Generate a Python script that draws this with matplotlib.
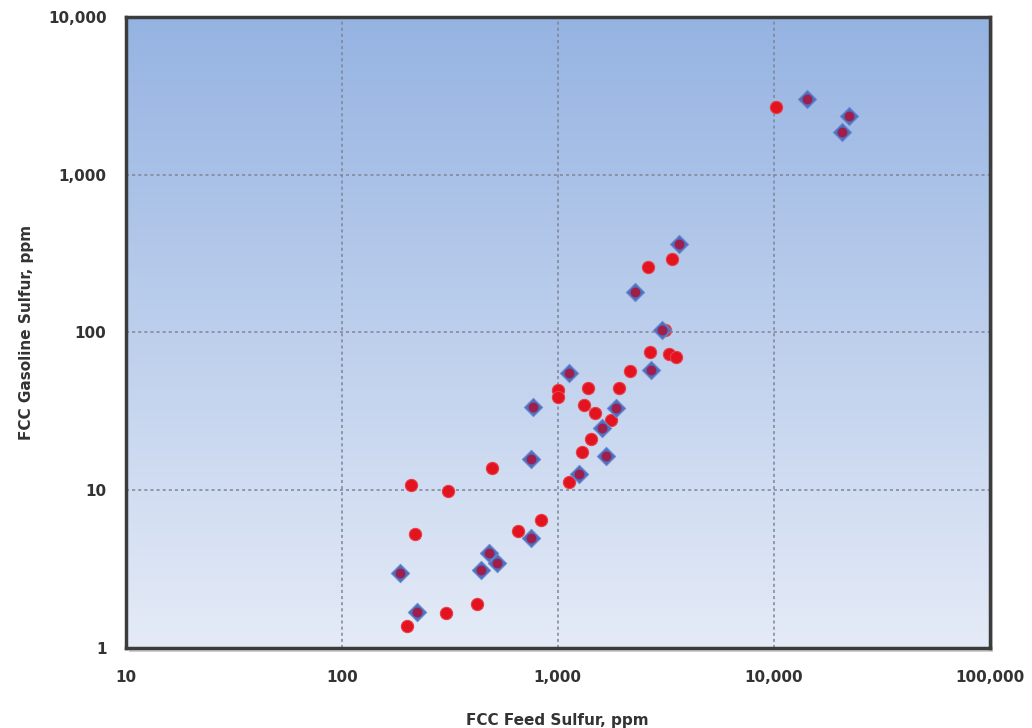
import numpy as np
import matplotlib
matplotlib.use("Agg")
import matplotlib.pyplot as plt
from matplotlib.ticker import FixedLocator, FuncFormatter, NullLocator
from matplotlib.patches import Rectangle

# red circles: feed sulfur vs gasoline sulfur (ppm)
red_feed = [10200, 3380, 2620, 3140, 2670, 3280, 3540, 2160, 1378, 1920,
            1000, 1000, 1320, 1487, 1760, 1420, 1290, 494, 1125, 210,
            309, 834, 652, 217, 421, 302, 201]
red_gas = [2680, 290, 258, 104, 75, 73, 70, 57, 44.5, 44.5,
           43, 39, 34.7, 30.8, 27.8, 21.1, 17.4, 13.8, 11.2, 10.7,
           9.85, 6.5, 5.5, 5.3, 1.91, 1.67, 1.38]

# blue diamonds (drawn with a red core, so they look purple)
blue_feed = [14300, 22400, 20600, 3640, 2280, 3040, 2700, 1125, 766, 1860,
             1600, 1670, 750, 1250, 750, 185, 440, 479, 521, 224]
blue_gas = [3010, 2350, 1860, 361, 181, 104, 58, 55, 33.7, 33.2,
            24.7, 16.4, 15.7, 12.6, 5.0, 3.0, 3.1, 3.97, 3.43, 1.70]

x_ticks = [10, 100, 1000, 10000, 100000]
y_ticks = [1, 10, 100, 1000, 10000]

fig = plt.figure(figsize=(10.32, 7.28), dpi=100)
pos = [0.122, 0.110, 0.837, 0.867]

# shadow behind the plot frame
fig.patches.append(Rectangle((pos[0] + 0.003, pos[1] - 0.005), pos[2], pos[3],
                             transform=fig.transFigure, facecolor="#b0b0b0",
                             edgecolor="none", alpha=0.6, zorder=0))

# gradient background
bg = fig.add_axes(pos, zorder=1)
grad = np.linspace(0, 1, 256).reshape(-1, 1)
top = np.array([149, 179, 226]) / 255
bottom = np.array([229, 235, 247]) / 255
img = top + (bottom - top) * grad[:, :, None]
bg.imshow(img, aspect="auto", extent=(0, 1, 0, 1), origin="upper")
bg.axis("off")

ax = fig.add_axes(pos, zorder=2)
ax.set_facecolor("none")
ax.set_xscale("log")
ax.set_yscale("log")
ax.set_xlim(10, 100000)
ax.set_ylim(1, 10000)

ax.scatter(red_feed, red_gas, s=78, marker="o", color="#e3131f",
           edgecolors="#e8404a", linewidths=0.8, zorder=3)
ax.scatter(blue_feed, blue_gas, s=90, marker="D", color="#4f6fc0",
           edgecolors="#7090d0", linewidths=0.6, zorder=4)
ax.scatter(blue_feed, blue_gas, s=50, marker="o", color="#a8163e",
           alpha=0.9, linewidths=0, zorder=5)

ax.xaxis.set_major_locator(FixedLocator(x_ticks))
ax.yaxis.set_major_locator(FixedLocator(y_ticks))
ax.xaxis.set_minor_locator(NullLocator())
ax.yaxis.set_minor_locator(NullLocator())
fmt = FuncFormatter(lambda v, p: f"{int(round(v)):,}")
ax.xaxis.set_major_formatter(fmt)
ax.yaxis.set_major_formatter(fmt)

ax.grid(True, which="major", color="#7d8597", linestyle=(0, (2, 2)), linewidth=1.1)
ax.set_axisbelow(True)

for sp in ax.spines.values():
    sp.set_color("#3c3c3c")
    sp.set_linewidth(2.5)

ax.tick_params(axis="both", length=0, labelsize=11, labelcolor="#333333")
ax.tick_params(axis="x", pad=16)
ax.tick_params(axis="y", pad=14)
for lab in ax.get_xticklabels() + ax.get_yticklabels():
    lab.set_fontweight("bold")

ax.set_xlabel("FCC Feed Sulfur, ppm", fontsize=11, fontweight="bold",
              color="#333333", labelpad=20)
ax.set_ylabel("FCC Gasoline Sulfur, ppm", fontsize=11, fontweight="bold",
              color="#333333", labelpad=10)

fig.savefig("out.png", dpi=100)
